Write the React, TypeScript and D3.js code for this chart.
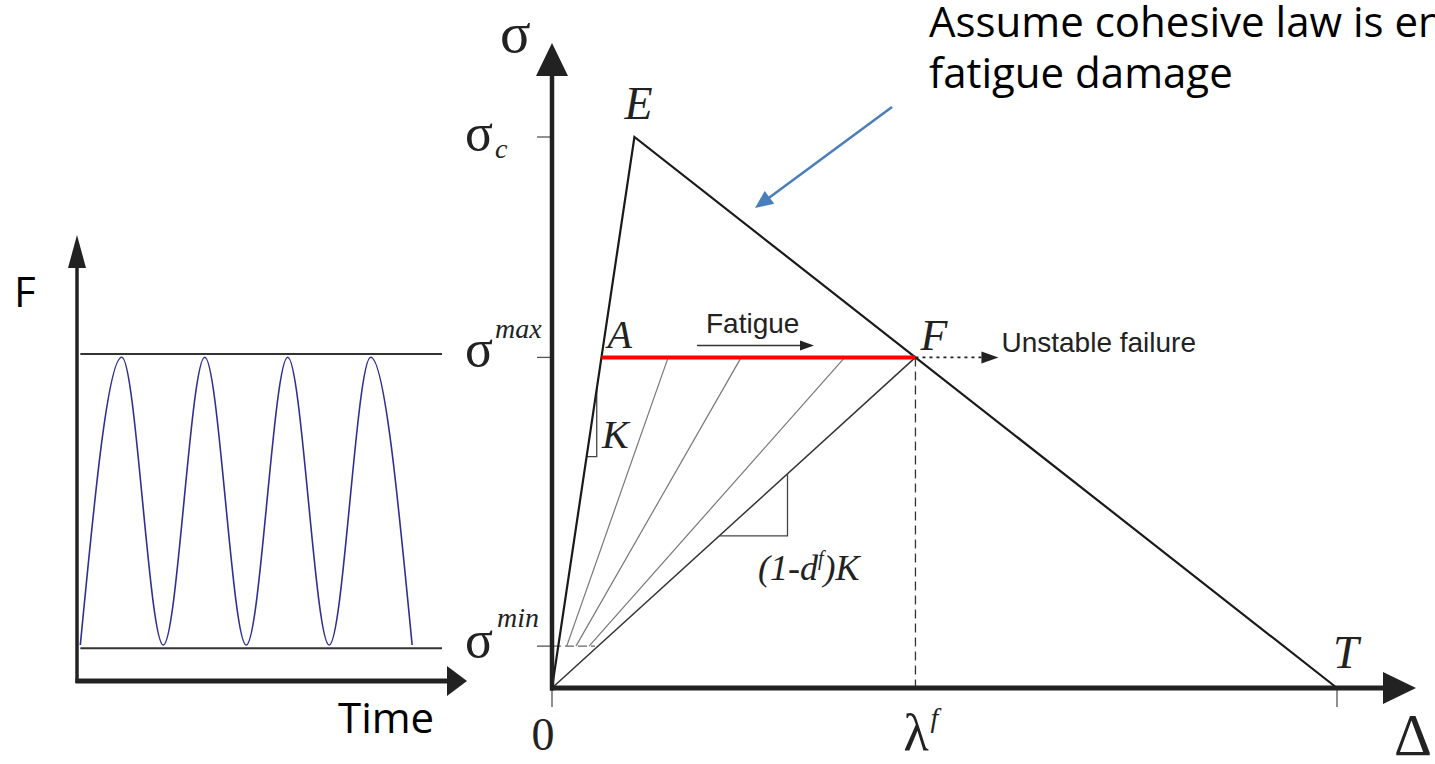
import React from "react";
import * as d3 from "d3";

// ---- Cyclic load history (left panel) ----
const cycleTime = [0.04, 0.54, 1.04, 1.54, 2.04, 2.54, 3.04, 3.54, 4.04];
const cycleLoad = [11, 99, 11, 99, 11, 99, 11, 99, 11];
const loadLevels = [100, 10]; // F_max, F_min reference lines
const loadLineSpan = [0.04, 4.4];

// ---- Bilinear cohesive law (right panel) ----
const lawDelta = [0, 10.5, 100]; // origin, E (peak), T (full separation)
const lawSigma = [0, 100, 0];
const sigmaMax = 60;
const sigmaMin = 7.6;
const unloadDelta = [14.8, 24.1, 37.3]; // intermediate damaged-stiffness states
const kTriangle = { d: 5.7, s: 42 };
const dTriangle = { d: 30, s: 27.6 };

const SERIF = "'Liberation Serif', 'Times New Roman', serif";
const SANS = "'Liberation Sans', Arial, sans-serif";
const NOTE = "'Open Sans', 'Noto Sans', sans-serif";
const AXIS = "#222";

function arrowHead(x1: number, y1: number, x2: number, y2: number, len: number, half: number) {
  const a = Math.atan2(y2 - y1, x2 - x1);
  const bx = x2 - len * Math.cos(a);
  const by = y2 - len * Math.sin(a);
  const px = -Math.sin(a) * half;
  const py = Math.cos(a) * half;
  return `${x2},${y2} ${bx + px},${by + py} ${bx - px},${by - py}`;
}

export default function App() {
  // left panel scales
  const xL = d3.scaleLinear().domain([0, 4.4]).range([77, 442]);
  const yL = d3.scaleLinear().domain([0, 100]).range([681, 354]);
  const loadPath = d3
    .line<number>()
    .x((_, i) => xL(cycleTime[i]))
    .y((v) => yL(v))
    .curve(d3.curveMonotoneX)(cycleLoad) as string;

  // right panel scales
  const xR = d3.scaleLinear().domain([0, 100]).range([552, 1337]);
  const yR = d3.scaleLinear().domain([0, 100]).range([688, 137]);

  const [d0, dE, dT] = lawDelta;
  const [s0, sC] = lawSigma;
  const dA = (dE * sigmaMax) / sC;
  const dF = dE + ((dT - dE) * (sC - sigmaMax)) / sC;
  const kSlope = sC / dE;
  const dfSlope = sigmaMax / dF;

  const lawPath = d3
    .line<number>()
    .x((_, i) => xR(lawDelta[i]))
    .y((v) => yR(v))(lawSigma) as string;

  const ox = xR(d0);
  const oy = yR(s0);
  const xA = xR(dA);
  const xF = xR(dF);
  const yMax = yR(sigmaMax);
  const yMin = yR(sigmaMin);

  // axis extents
  const yTipR = 43;
  const xTipR = 1416;
  const yTipL = 235;
  const xTipL = 467;

  return (
    <svg
      width={1435}
      height={764}
      style={{ position: "absolute", left: 0, top: 0, background: "#fff" }}
    >
      {/* ===== Left panel: load vs time ===== */}
      <g>
        {loadLevels.map((lv) => (
          <line
            key={lv}
            x1={xL(loadLineSpan[0])}
            x2={xL(loadLineSpan[1])}
            y1={yL(lv)}
            y2={yL(lv)}
            stroke="#333"
            strokeWidth={2}
          />
        ))}
        <path d={loadPath} fill="none" stroke="#2e3192" strokeWidth={1.6} />
        <line x1={xL(0)} x2={xL(0)} y1={yL(0) + 2} y2={yTipL + 30} stroke={AXIS} strokeWidth={3.5} />
        <polygon points={arrowHead(xL(0), yL(0), xL(0), yTipL, 33, 9)} fill={AXIS} />
        <line x1={xL(0) - 1.5} x2={xTipL - 18} y1={yL(0)} y2={yL(0)} stroke={AXIS} strokeWidth={5} />
        <polygon points={arrowHead(xL(0), yL(0), xTipL, yL(0), 20, 15)} fill={AXIS} />
        <text x={14} y={307} fontFamily={NOTE} fontSize={42} fill="#000">
          F
        </text>
        <text x={338} y={733} fontFamily={NOTE} fontSize={42} fill="#000">
          Time
        </text>
      </g>

      {/* ===== Right panel: cohesive law with fatigue degradation ===== */}
      <g>
        {/* ticks */}
        {[sC, sigmaMax, sigmaMin].map((s) => (
          <line key={s} x1={ox - 15} x2={ox} y1={yR(s)} y2={yR(s)} stroke="#555" strokeWidth={1.3} />
        ))}
        {[d0, dT].map((d) => (
          <line key={d} x1={xR(d)} x2={xR(d)} y1={oy} y2={oy + 19} stroke="#555" strokeWidth={1.3} />
        ))}
        <line x1={ox} x2={ox + 43} y1={yMin} y2={yMin} stroke="#666" strokeWidth={1.3} strokeDasharray="9 4" />

        {/* unloading/reloading secants with degraded stiffness */}
        {unloadDelta.map((d) => (
          <line
            key={d}
            x1={xR(d)}
            y1={yMax}
            x2={xR((d * sigmaMin) / sigmaMax)}
            y2={yMin}
            stroke="#777"
            strokeWidth={1.2}
          />
        ))}
        <line x1={xF} y1={yMax} x2={ox} y2={oy} stroke="#333" strokeWidth={1.5} />

        {/* slope triangles */}
        <polyline
          points={`${xR(kTriangle.d)},${yR(kSlope * kTriangle.d)} ${xR(kTriangle.d)},${yR(kTriangle.s)} ${xR(
            kTriangle.s / kSlope
          )},${yR(kTriangle.s)}`}
          fill="none"
          stroke="#444"
          strokeWidth={1.3}
        />
        <polyline
          points={`${xR(dTriangle.d)},${yR(dfSlope * dTriangle.d)} ${xR(dTriangle.d)},${yR(dTriangle.s)} ${xR(
            dTriangle.s / dfSlope
          )},${yR(dTriangle.s)}`}
          fill="none"
          stroke="#444"
          strokeWidth={1.3}
        />

        {/* dashed drop to lambda^f */}
        <line x1={xF} x2={xF} y1={yMax} y2={oy} stroke="#333" strokeWidth={1.3} strokeDasharray="9 5" />

        {/* cohesive law */}
        <path d={lawPath} fill="none" stroke="#1a1a1a" strokeWidth={2.2} strokeLinejoin="miter" />

        {/* fatigue path at sigma_max */}
        <line x1={xA} x2={xF} y1={yMax} y2={yMax} stroke="#ff0000" strokeWidth={4} />

        {/* unstable failure dotted arrow */}
        <line x1={xF} x2={xF + 68} y1={yMax} y2={yMax} stroke="#222" strokeWidth={1.6} strokeDasharray="3 4" />
        <polygon points={arrowHead(xF, yMax, xF + 83, yMax, 17, 6)} fill="#222" />
        <text x={xF + 86} y={yMax - 5} fontFamily={SANS} fontSize={28} fill="#222">
          Unstable failure
        </text>

        {/* fatigue direction arrow */}
        <line x1={697} x2={802} y1={345.5} y2={345.5} stroke="#333" strokeWidth={1.5} />
        <polygon points={arrowHead(697, 345.5, 814, 345.5, 14, 5)} fill="#222" />
        <text x={706} y={333} fontFamily={SANS} fontSize={28} fill="#222">
          Fatigue
        </text>

        {/* axes */}
        <line x1={ox} x2={ox} y1={oy + 2.5} y2={yTipR + 30} stroke={AXIS} strokeWidth={4.5} />
        <polygon points={arrowHead(ox, oy, ox, yTipR, 33, 16)} fill={AXIS} />
        <line x1={ox - 2} x2={xTipR - 30} y1={oy} y2={oy} stroke={AXIS} strokeWidth={5} />
        <polygon points={arrowHead(ox, oy, xTipR, oy, 33, 16)} fill={AXIS} />

        {/* axis and tick labels */}
        <text x={500} y={52} fontFamily={SERIF} fontSize={57} fill="#222">
          σ
        </text>
        <text x={1394} y={755} fontFamily={SERIF} fontSize={59} fill="#222">
          Δ
        </text>

        <text x={ox - 59} y={yR(sC) + 13} textAnchor="end" fontFamily={SERIF} fontSize={52} fill="#222">
          σ
        </text>
        <text x={ox - 57} y={yR(sC) + 21} fontFamily={SERIF} fontStyle="italic" fontSize={28} fill="#222">
          c
        </text>

        <text x={ox - 59} y={yMax + 9} textAnchor="end" fontFamily={SERIF} fontSize={52} fill="#222">
          σ
        </text>
        <text x={ox - 57} y={yMax - 19} fontFamily={SERIF} fontStyle="italic" fontSize={28} fill="#222">
          max
        </text>

        <text x={ox - 59} y={yMin + 11} textAnchor="end" fontFamily={SERIF} fontSize={52} fill="#222">
          σ
        </text>
        <text x={ox - 55} y={yMin - 19} fontFamily={SERIF} fontStyle="italic" fontSize={28} fill="#222">
          min
        </text>

        <text x={ox - 9} y={750} textAnchor="middle" fontFamily={SERIF} fontSize={46} fill="#222">
          0
        </text>
        <text x={xF - 12} y={750} fontFamily={SERIF} fontSize={52} fill="#222">
          λ
        </text>
        <text x={xF + 15} y={727} fontFamily={SERIF} fontStyle="italic" fontSize={28} fill="#222">
          f
        </text>

        {/* point labels */}
        <text x={xR(dE) - 10} y={yR(sC) - 18} fontFamily={SERIF} fontStyle="italic" fontSize={46} fill="#222">
          E
        </text>
        <text x={xA + 6} y={yMax - 9} fontFamily={SERIF} fontStyle="italic" fontSize={40} fill="#222">
          A
        </text>
        <text x={xF + 5} y={yMax - 7} fontFamily={SERIF} fontStyle="italic" fontSize={44} fill="#222">
          F
        </text>
        <text x={xR(dT) - 4} y={oy - 20} fontFamily={SERIF} fontStyle="italic" fontSize={46} fill="#222">
          T
        </text>
        <text x={602} y={448} fontFamily={SERIF} fontStyle="italic" fontSize={40} fill="#222">
          K
        </text>
        <text x={758} y={580} fontFamily={SERIF} fontStyle="italic" fontSize={36} fill="#222">
          (1-d
          <tspan fontSize={20} dy={-15}>
            f
          </tspan>
          <tspan dy={15}>)K</tspan>
        </text>

        {/* annotation */}
        <line x1={892} y1={107} x2={766} y2={200} stroke="#4a7ebb" strokeWidth={2.5} />
        <polygon points={arrowHead(892, 107, 755, 208, 18, 8)} fill="#4a7ebb" />
        <text x={929} y={37} fontFamily={NOTE} fontSize={42} fill="#000">
          Assume cohesive law is enforced by
        </text>
        <text x={929} y={88} fontFamily={NOTE} fontSize={42} fill="#000">
          fatigue damage
        </text>
      </g>
    </svg>
  );
}
